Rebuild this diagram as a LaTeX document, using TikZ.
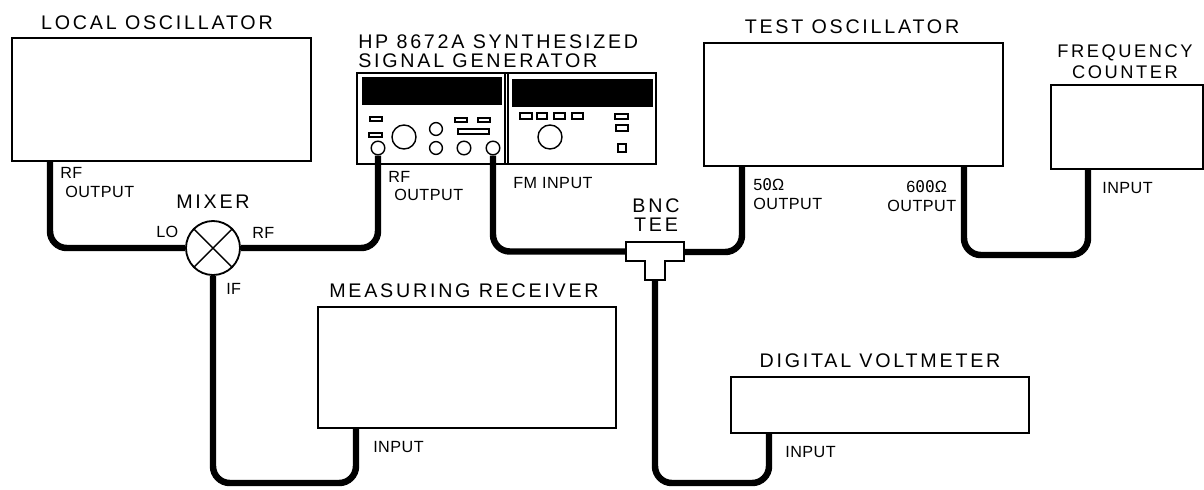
\documentclass[tikz,border=0pt]{standalone}
\usepackage{fontspec}
\setmainfont{Liberation Sans}
\newfontfamily\titlefont[LetterSpace=14]{Liberation Sans}
\newfontfamily\labelfont[LetterSpace=3]{Liberation Sans}
\newfontfamily\zerofont{DejaVu Sans Mono}
\newcommand{\slz}{{\zerofont 0}}
\usetikzlibrary{arrows.meta,positioning,calc}

\begin{document}
\begin{tikzpicture}[
  x=0.025cm, y=-0.025cm,
  instr/.style={draw=black, line width=1.3pt, inner sep=0},
  cable/.style={draw=black, line width=4.6pt, rounded corners=0.42cm},
  title/.style={font=\titlefont\fontsize{14}{16}\selectfont, inner sep=0},
  smalltitle/.style={font=\titlefont\fontsize{13}{15}\selectfont, inner sep=0},
  port/.style={font=\labelfont\fontsize{11.5}{13}\selectfont, anchor=west, inner sep=0},
  panel/.style={draw=black, line width=1pt},
  knob/.style={circle, draw=black, line width=1pt, fill=white, inner sep=0}
]
  \useasboundingbox (0,0) rectangle (1204,489);
  %% Instruments
  \node[instr, minimum width=7.48cm, minimum height=3.08cm] (localosc) at (161.5,99.5) {};
  \node[instr, minimum width=7.48cm, minimum height=3.08cm] (testosc) at (853.5,104.5) {};
  \node[instr, minimum width=3.80cm, minimum height=2.10cm] (freqcount) at (1127,127) {};
  \node[instr, minimum width=7.45cm, minimum height=3.03cm] (measrec) at (467,367.5) {};
  \node[instr, minimum width=7.45cm, minimum height=1.40cm] (digvolt) at (880,405) {};
  %% Signal generator
  \node[instr, minimum width=7.48cm, minimum height=2.28cm] (siggen) at (506.5,118.5) {};
  \draw[panel] (505,73) -- (505,164) (508,73) -- (508,164);
  \fill (362,77) rectangle (502,105);
  \fill (512,79) rectangle (653,107);
  \draw[panel] (370,117) rectangle (382,121);
  \draw[panel] (369,133) rectangle (382,137);
  \draw[panel] (455,118) rectangle (467,122);
  \draw[panel] (478,118) rectangle (490,122);
  \draw[panel] (458,129) rectangle (489,134);
  \draw[panel] (520,113) rectangle (532,119);
  \draw[panel] (537,113) rectangle (547,119);
  \draw[panel] (554,113) rectangle (565,119);
  \draw[panel] (572,113) rectangle (583,119);
  \draw[panel] (615,114) rectangle (628,119);
  \draw[panel] (616,125) rectangle (628,131);
  \draw[panel] (618,144) rectangle (626,152);
  \node[knob, minimum size=0.6cm] (tuneA) at (404,137) {};
  \node[knob, minimum size=0.6cm] (tuneB) at (550,137) {};
  \node[knob, minimum size=0.32cm] (knobA) at (436,129) {};
  \node[knob, minimum size=0.32cm] (knobB) at (436,148) {};
  \node[knob, minimum size=0.34cm] (knobC) at (464,148) {};
  \node[knob, minimum size=0.34cm] (genrf) at (378,148) {};
  \node[knob, minimum size=0.34cm] (genfm) at (493,148) {};
  %% Mixer
  \node[circle, draw=black, line width=1.3pt, minimum size=1.35cm, inner sep=0] (mixer) at (213,248) {};
  \draw[line width=1pt] (mixer.45) -- (mixer.225) (mixer.135) -- (mixer.315);
  %% BNC tee
  \draw[instr] (626,242) -- (684,242) -- (684,261) -- (665,261) -- (665,280) -- (645,280) -- (645,261) -- (626,261) -- cycle;
  \coordinate (teew) at (626,251.5);
  \coordinate (teee) at (684,252);
  \coordinate (tees) at (655,280);
  %% Ports on the boxes
  \coordinate (localout) at (50,161);
  \coordinate (test50) at (742,166);
  \coordinate (test600) at (964,166);
  \coordinate (freqin) at (1088,169);
  \coordinate (measin) at (356,428);
  \coordinate (voltin) at (769,433);
  %% Cables
  \draw[cable] (localout) |- (mixer.west);
  \draw[cable] (mixer.east) -| (genrf.south);
  \draw[cable] (genfm.south) |- (teew);
  \draw[cable] (teee) -| (test50);
  \draw[cable] (test600) -- (964,255) -- (1088,255) -- (freqin);
  \draw[cable] (mixer.south) -- (213,483) -- (356,483) -- (measin);
  \draw[cable] (tees) -- (655,483) -- (769,483) -- (voltin);
  %% Titles
  \node[title] (localname) at (157,23) {LOCAL OSCILLATOR};
  \node[title, anchor=west] (genname) at (358,41.5) {HP 8672A SYNTHESIZED};
  \node[title, anchor=west] (genname2) at (358,60.5) {SIGNAL GENERATOR};
  \node[title] (testname) at (852,27) {TEST OSCILLATOR};
  \node[smalltitle] (freqname) at (1125,53) {FREQUENCY};
  \node[smalltitle] (freqname2) at (1125,72) {COUNTER};
  \node[title] (mixername) at (213,202) {MIXER};
  \node[title] (measname) at (464,291) {MEASURING RECEIVER};
  \node[title] (voltname) at (880,361) {DIGITAL VOLTMETER};
  \node[title] (teename) at (656,206) {BNC};
  \node[title] (teename2) at (656,225) {TEE};
  %% Port labels
  \node[port] (lbla) at (60,173) {RF};
  \node[port] (lblb) at (65,192) {OUTPUT};
  \node[port] (lblc) at (156,232) {LO};
  \node[port] (lbld) at (252,233) {RF};
  \node[port] (lble) at (226,289) {IF};
  \node[port] (lblf) at (388,177) {RF};
  \node[port] (lblg) at (394,195) {OUTPUT};
  \node[port] (lblh) at (513,183) {FM INPUT};
  \node[port] (lbli) at (753,185) {5\slz Ω};
  \node[port] (lblj) at (753,204) {OUTPUT};
  \node[port] (lblk) at (906,187) {6\slz\slz Ω};
  \node[port] (lbll) at (887,206) {OUTPUT};
  \node[port] (lblm) at (1102,188) {INPUT};
  \node[port] (lbln) at (373,447) {INPUT};
  \node[port] (lblo) at (785,452) {INPUT};
\end{tikzpicture}
\end{document}
